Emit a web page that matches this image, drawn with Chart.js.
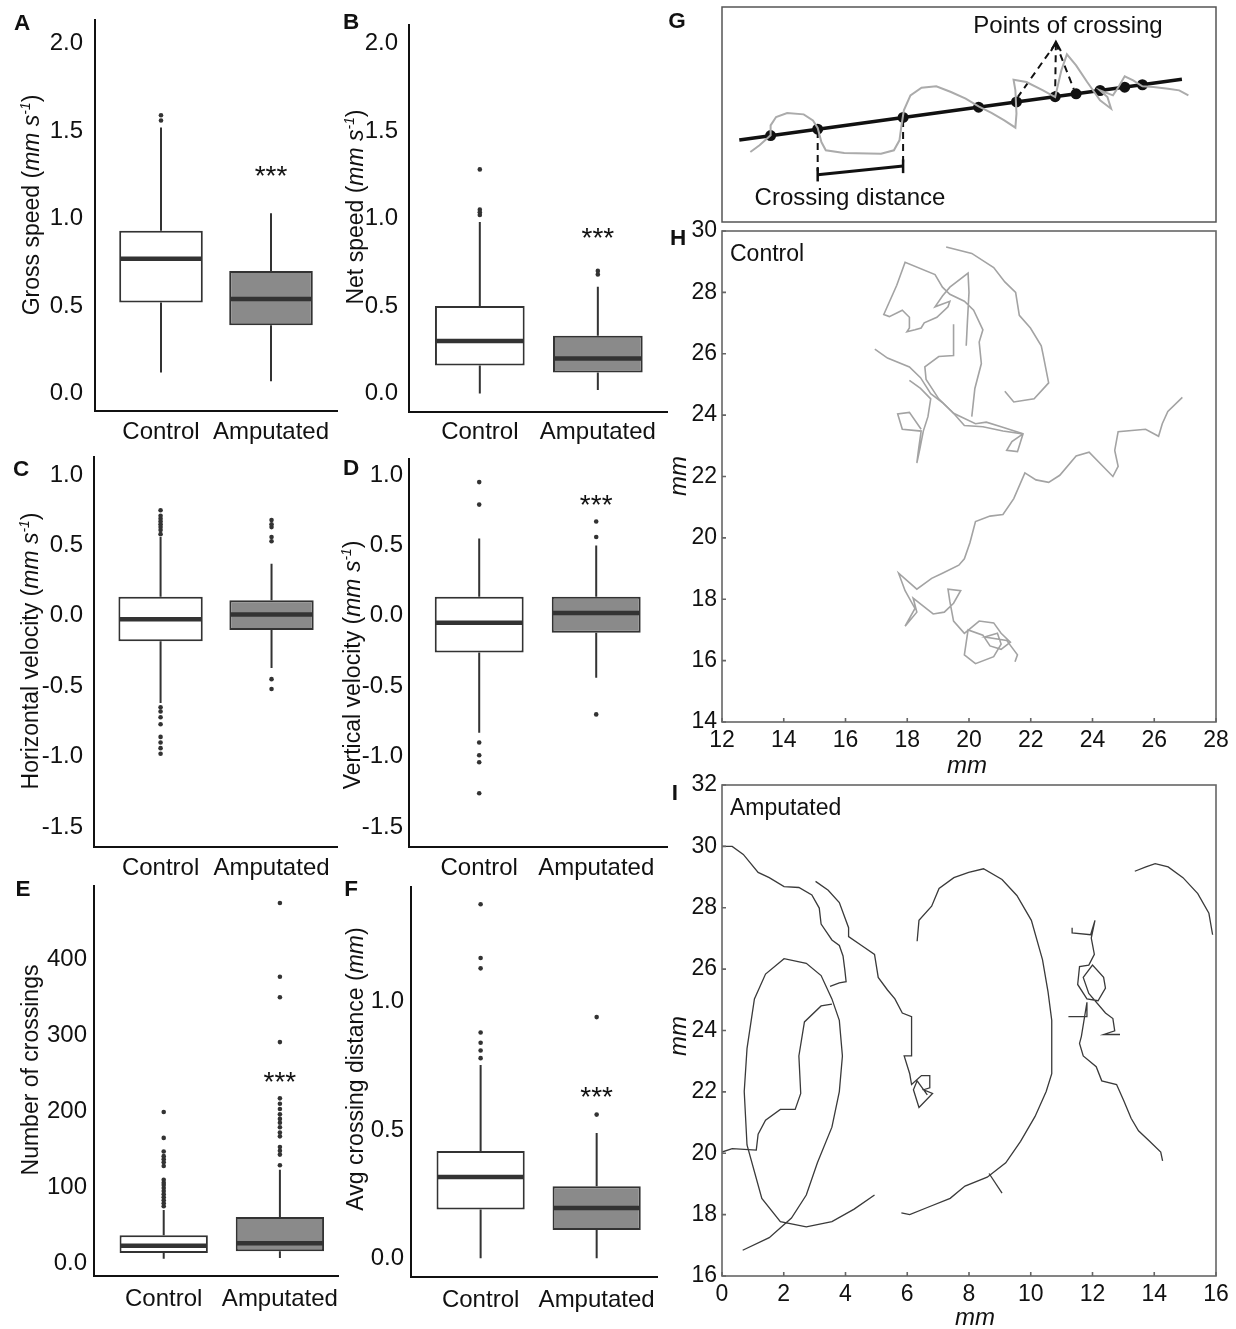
<!DOCTYPE html>
<html><head><meta charset="utf-8">
<script src="https://cdn.jsdelivr.net/npm/chart.js@4.4.1/dist/chart.umd.min.js"></script>
<style>
html,body{margin:0;padding:0;background:#fff;}
body{width:1236px;height:1329px;overflow:hidden;position:relative;font-family:"Liberation Sans",Arial,sans-serif;color:#111;}
canvas{position:absolute;}
.t{position:absolute;white-space:nowrap;line-height:1;transform:translate(-50%,-50%);}
.l{position:absolute;white-space:nowrap;line-height:1;transform:translate(0,-50%);}
.rot{transform:translate(-50%,-50%) rotate(-90deg);}
.b{font-weight:bold;}
sup{font-size:0.6em;vertical-align:0.65em;line-height:0;}
</style></head><body>
<script>
// ---------------- DATA ----------------
const categories = ['Control', 'Amputated'];
// box stats: [lower whisker, Q1, median, Q3, upper whisker]
const grossSpeedControl = [0.12, 0.52, 0.77, 0.93, 1.52];
const grossSpeedAmputated = [0.07, 0.39, 0.54, 0.70, 1.03];
const grossSpeedOutControl = [1.56, 1.59];
const grossSpeedOutAmputated = [];
const grossSpeedStar = 1.28;
const speedTicks = [0, 0.5, 1.0, 1.5, 2.0];

const netSpeedControl = [0.0, 0.16, 0.30, 0.50, 0.98];
const netSpeedAmputated = [0.02, 0.12, 0.20, 0.33, 0.61];
const netSpeedOutControl = [1.02, 1.035, 1.05, 1.28];
const netSpeedOutAmputated = [0.68, 0.70];
const netSpeedStar = 0.93;

const hVelControl = [-0.62, -0.18, -0.025, 0.135, 0.56];
const hVelAmputated = [-0.37, -0.10, 0.01, 0.11, 0.37];
const hVelOutControl = [0.58, 0.61, 0.63, 0.65, 0.67, 0.69, 0.71, 0.75, -0.65, -0.68, -0.72, -0.77, -0.86, -0.90, -0.94, -0.98];
const hVelOutAmputated = [0.53, 0.56, 0.63, 0.65, 0.68, -0.45, -0.52];
const hVelStar = null;
const velocityTicks = [-1.5, -1.0, -0.5, 0, 0.5, 1.0];

const vVelControl = [-0.83, -0.26, -0.05, 0.135, 0.55];
const vVelAmputated = [-0.44, -0.12, 0.02, 0.135, 0.50];
const vVelOutControl = [0.79, 0.95, -0.90, -0.99, -1.04, -1.26];
const vVelOutAmputated = [0.56, 0.67, -0.70];
const vVelStar = 0.84;

const crossingsControl = [6, 13.5, 23, 37, 70];
const crossingsAmputated = [7, 16, 26.5, 61, 123];
const crossingsOutControl = [75, 79, 83, 87, 91, 95, 99, 103, 106, 110, 128, 133, 137, 141, 147, 165, 199];
const crossingsOutAmputated = [129, 143, 148, 153, 167, 172, 179, 185, 190, 196, 203, 210, 217, 291, 350, 377, 474];
const crossingsStar = 248;
const crossingsTicks = [0, 100, 200, 300, 400];
const crossingsTickLabels = ['0.0', '100', '200', '300', '400'];

const crossDistControl = [0.0, 0.19, 0.317, 0.418, 0.753];
const crossDistAmputated = [0.0, 0.11, 0.196, 0.281, 0.488];
const crossDistOutControl = [0.78, 0.81, 0.84, 0.88, 1.13, 1.17, 1.38];
const crossDistOutAmputated = [0.56, 0.94];
const crossDistStar = 0.656;
const crossDistTicks = [0, 0.5, 1.0];

// Panel G schematic (arbitrary schematic units)
const schemePath = [[5.74,14.32],[7.60,15.69],[9.84,17.74],[9.84,19.78],[10.95,21.49],[13.19,22.31],[16.54,22.03],[18.41,20.80],[19.37,19.24],[20.12,16.37],[21.01,14.67],[24.74,14.12],[32.19,13.98],[34.80,14.67],[35.92,16.71],[36.29,19.44],[36.81,22.85],[38.15,25.92],[40.39,27.49],[43.37,27.76],[46.35,26.60],[49.33,25.24],[51.94,23.67],[54.55,22.31],[57.15,20.81],[59.39,19.30],[59.61,22.17],[59.39,26.94],[59.02,29.13],[61.62,28.65],[64.98,26.94],[67.44,25.58],[68.70,31.04],[69.82,34.31],[71.68,32.06],[73.92,28.65],[76.53,24.90],[78.76,23.19],[78.02,25.58],[76.53,26.94],[79.14,25.92],[80.25,27.63],[81.52,29.81],[83.23,28.99],[85.10,27.76],[87.33,27.63],[90.31,27.29],[92.55,26.94],[94.41,25.92]];
const schemeLine = [[3.5,16.8],[93.1,29.2]];
const crossingPoints = [[9.84,17.68],[19.37,18.99],[36.66,21.39],[51.94,23.50],[59.61,24.57],[67.44,25.65],[71.68,26.24],[76.53,26.91],[81.52,27.60],[85.10,28.09]];
const pointerApex = [67.59,36.6];
const pointerTargets = [[59.9,25.6],[67.44,26.6],[71.2,27.2]];
const arrowHead = [[66.6,35.0],[67.59,36.9],[68.6,35.0]];
const bracketLine = [[19.37,9.69],[36.66,11.46]];
const bracketEnds = [[[19.37,8.3],[19.37,11.1]],[[36.66,10.0],[36.66,12.8]]];
const bracketGuides = [[[19.37,18.6],[19.37,10.4]],[[36.66,20.9],[36.66,12.2]]];

// Panel H trajectories (mm)
const controlXTicks = [12,14,16,18,20,22,24,26,28];
const controlYTicks = [14,16,18,20,22,24,26,28,30];
const controlArc = [[19.26,29.48],[20.09,29.27],[20.80,28.81],[21.16,28.34],[21.51,28.0],[21.63,27.25],[21.99,26.84],[22.34,26.26],[22.40,25.97],[22.58,25.05],[22.11,24.53],[21.45,24.43],[21.16,24.78]];
const controlLong = [[26.91,24.58],[26.44,24.12],[26.26,23.72],[26.14,23.31],[25.72,23.54],[24.83,23.46],[24.72,22.85],[24.83,22.33],[24.66,22.0],[23.89,22.79],[23.47,22.67],[22.94,22.04],[22.58,21.81],[22.17,21.89],[21.81,22.12],[21.45,21.28],[21.10,20.76],[20.68,20.71],[20.21,20.53],[20.03,19.84],[19.85,19.32],[19.67,19.11],[19.14,18.85],[18.79,18.68],[18.31,18.33],[17.72,18.85],[17.93,18.28],[18.25,17.70],[17.93,17.12],[18.31,17.58],[18.19,18.04],[18.84,17.52],[19.20,17.58],[19.50,17.87],[19.73,18.28],[19.32,18.33],[19.38,17.93],[19.50,17.29],[19.85,16.89],[20.33,17.29],[20.80,17.23],[21.04,16.89],[21.34,16.60],[21.04,16.37],[20.68,16.48],[20.45,16.83],[19.97,17.0],[19.85,16.19],[20.21,15.90],[20.80,16.13],[21.04,16.54],[20.92,16.89],[20.51,16.77],[21.22,16.66],[21.57,16.19],[21.49,15.96]];
const controlTop = [[20.09,23.95],[20.19,24.87],[20.40,25.68],[20.33,26.38],[20.45,26.78],[20.15,27.42],[19.85,27.71],[19.38,27.94],[19.14,28.17],[18.90,28.58],[17.93,28.98],[17.66,28.23],[17.24,27.28],[17.42,27.21],[17.84,27.42],[18.07,27.19],[18.07,26.84],[17.99,26.72],[18.25,26.78],[18.45,26.84],[18.55,27.01],[18.96,27.19],[19.32,27.53],[19.38,27.71],[18.90,27.53],[19.14,27.88],[19.38,28.17],[19.97,28.63],[20.0,28.0],[19.95,27.07],[19.91,26.26]];
const controlCross = [[16.95,26.15],[17.36,25.86],[18.07,25.57],[18.43,25.22],[18.76,24.70],[19.14,24.41],[19.50,24.06],[19.85,23.66],[20.45,23.62],[21.10,23.48],[21.75,23.39],[21.57,22.81],[21.22,22.85],[21.39,23.14],[21.75,23.39]];
const controlMid = [[19.50,26.96],[19.50,25.94],[19.02,25.91],[18.57,25.57],[18.61,25.16],[19.02,24.53],[19.50,24.06],[20.21,23.72],[20.56,23.77],[21.04,23.62],[21.75,23.39]];
const controlLoop = [[18.07,25.13],[18.43,24.87],[18.76,24.53],[18.67,23.95],[18.52,23.48],[18.41,22.91],[18.31,22.44],[18.37,22.91],[18.45,23.48],[17.84,23.54],[17.69,24.04],[18.07,24.09],[18.45,23.54]];

// Panel I trajectories (mm)
const ampXTicks = [0,2,4,6,8,10,12,14,16];
const ampYTicks = [16,18,20,22,24,26,28,30,32];
const ampTrack1 = [[0,30.0],[0.33,30.0],[0.69,29.74],[1.17,29.15],[1.53,28.98],[2.01,28.69],[2.49,28.66],[2.91,28.42],[3.15,27.99],[3.21,27.47],[3.56,26.95],[3.80,26.77],[3.92,26.43],[3.98,25.96],[4.02,25.59],[3.80,25.55],[3.50,25.44]];
const ampTrack2 = [[3.03,28.86],[3.44,28.57],[3.80,28.17],[4.10,27.35],[4.10,27.06],[4.52,26.77],[4.94,26.48],[5.06,25.73],[5.36,25.32],[5.60,25.03],[5.84,24.57],[6.14,24.45],[6.14,23.17],[5.90,23.17],[6.08,22.59],[6.14,22.24],[6.46,22.53],[6.73,22.53],[6.73,22.13],[6.53,22.07],[6.82,21.95],[6.38,21.49],[6.20,22.07],[6.32,22.36],[6.65,21.90]];
const ampSpiral = [[0.67,16.84],[1.53,17.25],[2.25,17.89],[2.73,18.64],[3.09,19.69],[3.56,20.85],[3.80,22.01],[3.90,23.17],[3.80,24.33],[3.56,25.03],[3.21,25.79],[2.73,26.19],[2.01,26.34],[1.41,25.84],[1.05,25.03],[0.81,23.41],[0.72,22.01],[0.81,20.27],[1.29,18.53],[1.89,17.77],[2.73,17.60],[3.56,17.77],[4.28,18.18],[4.94,18.64]];
const ampInner = [[0,20.04],[0.33,20.15],[1.11,20.10],[1.17,20.62],[1.41,21.08],[1.89,21.43],[2.37,21.43],[2.55,21.95],[2.49,23.17],[2.67,24.28],[3.21,24.80],[3.56,24.86]];
const ampBigArc = [[6.32,26.91],[6.38,27.59],[6.79,28.05],[7.03,28.63],[7.51,28.98],[7.99,29.15],[8.47,29.27],[9.07,28.92],[9.55,28.40],[10.02,27.59],[10.38,26.31],[10.56,25.26],[10.68,24.33],[10.68,23.17],[10.68,22.59],[10.50,22.01],[10.14,21.20],[9.67,20.39],[9.19,19.69],[8.59,19.22],[7.87,18.93],[7.39,18.53],[6.67,18.24],[6.08,18.0],[5.81,18.06]];
const ampSpur = [[8.65,19.34],[9.07,18.70]];
const ampRight = [[11.34,27.35],[11.34,27.18],[11.94,27.12],[12.08,27.59],[11.96,27.01],[12.06,26.48],[11.88,26.13],[11.58,26.08],[11.52,25.50],[11.82,25.03],[12.18,24.97],[12.42,25.38],[12.36,25.73],[12.0,26.13],[11.70,25.73],[11.88,25.21],[12.42,24.57],[12.66,24.39],[12.72,23.99],[12.36,23.87],[12.89,23.87]];
const ampRightLow = [[11.22,24.45],[11.82,24.45],[11.82,24.92],[11.64,23.81],[11.58,23.58],[11.70,23.17],[12.12,22.82],[12.30,22.36],[12.78,22.24],[13.01,21.72],[13.25,21.14],[13.49,20.73],[13.85,20.39],[14.21,20.04],[14.27,19.75]];
const ampTopRight = [[13.37,29.19],[13.73,29.33],[14.03,29.44],[14.45,29.33],[14.93,28.98],[15.41,28.46],[15.77,27.82],[15.89,27.12]];

// ---------------- RENDER ----------------
const FONT = "'Liberation Sans', Arial, sans-serif";
Chart.defaults.font.family = FONT;
const INK = '#111';

function addCanvas(area, M) {
  const [l, t, r, b] = area;
  const cv = document.createElement('canvas');
  const cw = r - l + 2 * M, ch = b - t + 2 * M;
  cv.width = cw; cv.height = ch;
  cv.style.left = (l - M) + 'px'; cv.style.top = (t - M) + 'px';
  cv.style.width = cw + 'px'; cv.style.height = ch + 'px';
  document.body.appendChild(cv);
  return cv;
}

function makeBoxPanel(L, ctrl, amp, outC, outA, star, ticks, tickLabels) {
  const M = 90, WY = 78, HX = 50;
  const cv = addCanvas(L.area, M);
  const stats = [ctrl, amp];
  const plug = {
    id: 'boxParts',
    beforeDatasetsDraw(chart) {
      const {ctx, scales: {x, y}} = chart;
      ctx.save(); ctx.strokeStyle = '#333'; ctx.lineWidth = 2;
      stats.forEach((s, i) => {
        const px = x.getPixelForValue(i + 1);
        ctx.beginPath();
        ctx.moveTo(px, y.getPixelForValue(s[0])); ctx.lineTo(px, y.getPixelForValue(s[1]));
        ctx.moveTo(px, y.getPixelForValue(s[3])); ctx.lineTo(px, y.getPixelForValue(s[4]));
        ctx.stroke();
      });
      ctx.restore();
    },
    afterDatasetsDraw(chart) {
      const {ctx, scales: {x, y}} = chart;
      const meta = chart.getDatasetMeta(0);
      ctx.save(); ctx.strokeStyle = '#333'; ctx.lineWidth = 4.5;
      stats.forEach((s, i) => {
        const el = meta.data[i];
        const py = y.getPixelForValue(s[2]);
        ctx.beginPath();
        ctx.moveTo(el.x - el.width / 2 + 1, py); ctx.lineTo(el.x + el.width / 2 - 1, py);
        ctx.stroke();
      });
      if (star !== null) {
        ctx.fillStyle = INK; ctx.font = '28px ' + FONT; ctx.textAlign = 'center'; ctx.textBaseline = 'alphabetic';
        ctx.fillText('***', x.getPixelForValue(2), y.getPixelForValue(star) + 16);
      }
      ctx.restore();
    }
  };
  new Chart(cv, {
    type: 'bar',
    data: {datasets: [
      {type: 'bar', data: stats.map((s, i) => ({x: i + 1, y: [s[1], s[3]]})),
       backgroundColor: ['#ffffff', '#8a8a8a'], borderColor: '#333', borderWidth: 2, borderSkipped: false,
       barPercentage: 0.76, categoryPercentage: 1},
      {type: 'scatter', data: [...outC.map(v => ({x: 1, y: v})), ...outA.map(v => ({x: 2, y: v}))],
       pointRadius: 2.3, pointBackgroundColor: '#333', pointBorderWidth: 0}
    ]},
    options: {
      responsive: false, animation: false, devicePixelRatio: 1, events: [],
      layout: {padding: {left: M - WY, top: M, right: M, bottom: M - HX}},
      plugins: {legend: {display: false}, tooltip: {enabled: false}},
      scales: {
        x: {type: 'linear', min: 0.4, max: L.xMax, offset: false,
            grid: {display: false, drawTicks: false}, border: {display: true, color: INK, width: 2},
            afterBuildTicks: s => { s.ticks = [{value: 1}, {value: 2}]; },
            afterFit: s => { s.height = HX; },
            ticks: {padding: L.lblPad, color: INK, font: {size: 24}, maxRotation: 0, autoSkip: false,
                    callback: v => categories[Math.round(v) - 1]}},
        y: {type: 'linear', min: L.yMin, max: L.yMax, beginAtZero: false,
            grid: {display: false, drawTicks: false}, border: {display: true, color: INK, width: 2},
            afterBuildTicks: s => { s.ticks = ticks.map(v => ({value: v})); },
            afterFit: s => { s.width = WY; },
            ticks: {padding: L.tickPad, color: INK, font: {size: 24}, autoSkip: false,
                    callback: v => tickLabels ? tickLabels[ticks.indexOf(v)] : v.toFixed(1)}}
      }
    },
    plugins: [plug]
  });
}

const boxLayouts = {
  A: {area: [95, 20, 337, 411], xMax: 2.6, yMin: -0.1, yMax: 2.134, tickPad: 12, lblPad: 7},
  B: {area: [409, 25, 667, 412], xMax: 2.586, yMin: -0.106, yMax: 2.105, tickPad: 11, lblPad: 6},
  C: {area: [94, 457, 337, 847], xMax: 2.59, yMin: -1.642, yMax: 1.128, tickPad: 11, lblPad: 7},
  D: {area: [409, 459, 667, 847], xMax: 2.605, yMin: -1.642, yMax: 1.114, tickPad: 6, lblPad: 7},
  E: {area: [94, 886, 338, 1276], xMax: 2.50, yMin: -16.7, yMax: 496.4, tickPad: 7, lblPad: 9},
  F: {area: [411, 887, 657, 1277], xMax: 2.52, yMin: -0.073, yMax: 1.447, tickPad: 7, lblPad: 9}
};

makeBoxPanel(boxLayouts.A, grossSpeedControl, grossSpeedAmputated, grossSpeedOutControl, grossSpeedOutAmputated, grossSpeedStar, speedTicks, null);
makeBoxPanel(boxLayouts.B, netSpeedControl, netSpeedAmputated, netSpeedOutControl, netSpeedOutAmputated, netSpeedStar, speedTicks, null);
makeBoxPanel(boxLayouts.C, hVelControl, hVelAmputated, hVelOutControl, hVelOutAmputated, hVelStar, velocityTicks, null);
makeBoxPanel(boxLayouts.D, vVelControl, vVelAmputated, vVelOutControl, vVelOutAmputated, vVelStar, velocityTicks, null);
makeBoxPanel(boxLayouts.E, crossingsControl, crossingsAmputated, crossingsOutControl, crossingsOutAmputated, crossingsStar, crossingsTicks, crossingsTickLabels);
makeBoxPanel(boxLayouts.F, crossDistControl, crossDistAmputated, crossDistOutControl, crossDistOutAmputated, crossDistStar, crossDistTicks, null);

const pts = arr => arr.map(p => ({x: p[0], y: p[1]}));
const frame = (color, inward) => ({
  id: 'frame',
  afterDraw(chart) {
    const {ctx, chartArea: a, scales: {x, y}} = chart;
    ctx.save(); ctx.strokeStyle = color; ctx.lineWidth = 1.6;
    ctx.strokeRect(a.left, a.top, a.right - a.left, a.bottom - a.top);
    if (inward) {
      ctx.beginPath();
      x.ticks.forEach(t => { const px = x.getPixelForValue(t.value); ctx.moveTo(px, a.bottom); ctx.lineTo(px, a.bottom - 4); });
      y.ticks.forEach(t => { const py = y.getPixelForValue(t.value); ctx.moveTo(a.left, py); ctx.lineTo(a.left + 4, py); });
      ctx.stroke();
    }
    ctx.restore();
  }
});

function makeTrajPanel(area, xTicks, yTicks, tracks, color, width, lblPad) {
  const M = 70, WY = 60, HX = 45;
  const cv = addCanvas(area, M);
  new Chart(cv, {
    type: 'scatter',
    data: {datasets: tracks.map(tr => ({data: pts(tr), showLine: true, borderColor: color, borderWidth: width, pointRadius: 0, tension: 0, fill: false}))},
    options: {
      responsive: false, animation: false, devicePixelRatio: 1, events: [],
      layout: {padding: {left: M - WY, top: M, right: M, bottom: M - HX}},
      plugins: {legend: {display: false}, tooltip: {enabled: false}},
      scales: {
        x: {type: 'linear', min: xTicks[0], max: xTicks[xTicks.length - 1],
            grid: {display: false, drawTicks: false}, border: {display: false},
            afterBuildTicks: s => { s.ticks = xTicks.map(v => ({value: v})); },
            afterFit: s => { s.height = HX; },
            ticks: {padding: lblPad, color: INK, font: {size: 23}, maxRotation: 0, autoSkip: false}},
        y: {type: 'linear', min: yTicks[0], max: yTicks[yTicks.length - 1],
            grid: {display: false, drawTicks: false}, border: {display: false},
            afterBuildTicks: s => { s.ticks = yTicks.map(v => ({value: v})); },
            afterFit: s => { s.width = WY; },
            ticks: {padding: 5, color: INK, font: {size: 23}, autoSkip: false}}
      }
    },
    plugins: [frame('#666', true)]
  });
}

makeTrajPanel([722, 231, 1216, 722], controlXTicks, controlYTicks,
  [controlArc, controlLong, controlTop, controlCross, controlMid, controlLoop], '#a3a3a3', 1.6, 5);
makeTrajPanel([722, 785, 1216, 1276], ampXTicks, ampYTicks,
  [ampTrack1, ampTrack2, ampSpiral, ampInner, ampBigArc, ampSpur, ampRight, ampRightLow, ampTopRight], '#3a3a3a', 1.3, 5);

// Panel G
(function () {
  const M = 40;
  const cv = addCanvas([722, 7, 1216, 222], M);
  const seg = (a, opts) => Object.assign({data: pts(a), showLine: true, pointRadius: 0, borderColor: '#111', borderWidth: 2.5, tension: 0}, opts);
  const ds = [
    seg(schemePath, {borderColor: '#ababab', borderWidth: 2}),
    seg(schemeLine, {borderWidth: 3.5}),
    {data: pts(crossingPoints), showLine: false, pointRadius: 5.5, pointBackgroundColor: '#111', pointBorderWidth: 0},
    ...pointerTargets.map(p => seg([pointerApex, p], {borderWidth: 2, borderDash: [7, 5]})),
    seg(arrowHead, {borderWidth: 2}),
    seg(bracketLine, {borderWidth: 3}),
    ...bracketEnds.map(e => seg(e, {borderWidth: 2.5})),
    ...bracketGuides.map(g => seg(g, {borderWidth: 2, borderDash: [7, 5]}))
  ];
  new Chart(cv, {
    type: 'scatter',
    data: {datasets: ds},
    options: {
      responsive: false, animation: false, devicePixelRatio: 1, events: [],
      layout: {padding: M},
      plugins: {legend: {display: false}, tooltip: {enabled: false}},
      scales: {x: {type: 'linear', min: 0, max: 100, display: false}, y: {type: 'linear', min: 0, max: 44, display: false}}
    },
    plugins: [{id: 'gframe', afterDraw(chart) { const {ctx, chartArea: a} = chart; ctx.save(); ctx.strokeStyle = '#555'; ctx.lineWidth = 1.5; ctx.strokeRect(a.left, a.top, a.right - a.left, a.bottom - a.top); ctx.restore(); }}]
  });
})();

// ---------------- TEXT ----------------
function txt(html, x, y, cls, size, extra) {
  const d = document.createElement('div');
  d.className = cls; d.innerHTML = html;
  d.style.left = x + 'px'; d.style.top = y + 'px'; d.style.fontSize = size + 'px';
  if (extra) Object.assign(d.style, extra);
  document.body.appendChild(d);
}
// panel letters
[['A', 22, 22.5], ['B', 351, 21.5], ['C', 21, 469], ['D', 351, 468], ['E', 23, 889], ['F', 351, 889], ['G', 677, 21], ['H', 678, 238], ['I', 675, 793]]
  .forEach(([t, x, y]) => txt(t, x, y, 't b', 22.5));
// y-axis titles
const mms = '<i>mm s<sup>-1</sup></i>';
txt('Gross speed (' + mms + ')', 31, 205, 't rot', 23);
txt('Net speed (' + mms + ')', 355, 207, 't rot', 23);
txt('Horizontal velocity (' + mms + ')', 30, 651, 't rot', 23);
txt('Vertical velocity (' + mms + ')', 352, 665, 't rot', 23);
txt('Number of crossings', 30, 1070, 't rot', 23);
txt('Avg crossing distance (<i>mm</i>)', 355, 1069, 't rot', 23);
// trajectory panel labels
txt('Control', 730, 253, 'l', 23);
txt('Amputated', 730, 807, 'l', 23);
txt('<i>mm</i>', 967, 765, 't', 24);
txt('<i>mm</i>', 678, 476, 't rot', 24);
txt('<i>mm</i>', 975, 1317, 't', 24);
txt('<i>mm</i>', 678, 1036, 't rot', 24);
// schematic labels
txt('Points of crossing', 1068, 25, 't', 24);
txt('Crossing distance', 850, 197, 't', 24);
</script>
</body></html>
